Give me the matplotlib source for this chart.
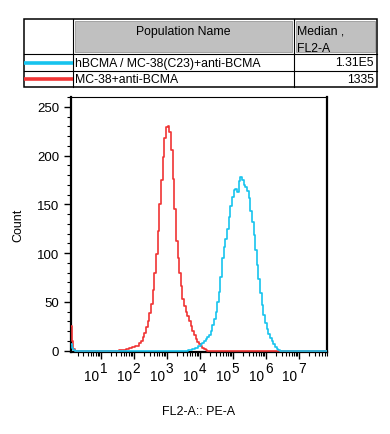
import matplotlib
matplotlib.use("Agg")
import matplotlib.pyplot as plt
import matplotlib.transforms as mtransforms
from matplotlib.patches import Rectangle
import numpy as np

plt.rcParams['font.family'] = ['Liberation Sans', 'DejaVu Sans']

# histogram data, x in log10(FL2-A)
red_log = [0.10, 0.15, 0.20, 0.25, 1.50, 1.60, 1.70, 1.80, 1.90, 2.00, 2.10, 2.20, 2.25,
           2.30, 2.35, 2.40, 2.45, 2.50, 2.55, 2.60, 2.65, 2.70, 2.75, 2.80, 2.85, 2.90,
           2.95, 3.00, 3.05, 3.10, 3.15, 3.20, 3.25, 3.30, 3.35, 3.40, 3.45, 3.50, 3.55,
           3.60, 3.65, 3.70, 3.75, 3.80, 3.85, 3.90, 3.95, 4.00, 4.05, 4.10, 4.15, 4.20,
           4.25, 7.85]
red_count = [25, 10, 2, 0, 0, 1, 1, 2, 3, 4, 5, 8, 10,
             14, 18, 24, 30, 38, 48, 62, 80, 99, 123, 150, 175, 198,
             218, 229, 230, 224, 206, 176, 145, 112, 95, 80, 66, 53, 46,
             40, 35, 30, 25, 20, 16, 12, 9, 7, 5, 3, 2, 1,
             0, 0]

blue_log = [0.10, 0.15, 0.20, 0.25, 3.60, 3.70, 3.80, 3.90, 4.00, 4.05, 4.10, 4.15, 4.20,
            4.25, 4.30, 4.35, 4.40, 4.45, 4.50, 4.55, 4.60, 4.65, 4.70, 4.75, 4.80, 4.85,
            4.90, 4.95, 5.00, 5.05, 5.10, 5.15, 5.20, 5.25, 5.30, 5.35, 5.40, 5.45, 5.50,
            5.55, 5.60, 5.65, 5.70, 5.75, 5.80, 5.85, 5.90, 5.95, 6.00, 6.05, 6.10, 6.15,
            6.20, 6.25, 6.30, 6.35, 6.40, 6.45, 7.85]
blue_count = [7, 3, 1, 0, 0, 1, 2, 3, 5, 7, 8, 10, 12,
              14, 16, 20, 26, 32, 40, 50, 60, 75, 95, 106, 114, 125,
              137, 148, 157, 165, 166, 163, 174, 178, 175, 170, 168, 164, 156,
              143, 132, 118, 103, 88, 73, 59, 47, 36, 28, 22, 17, 13,
              10, 7, 4, 2, 1, 0, 0]

decades = [1, 2, 3, 4, 5, 6, 7]
populations = ["hBCMA / MC-38(C23)+anti-BCMA", "MC-38+anti-BCMA"]
medians = ["1.31E5", "1335"]
colors = ["#17c3ee", "#f03434"]

W, H = 390, 435
fig = plt.figure(figsize=(W / 100, H / 100), dpi=100)

# histogram axes
ax = fig.add_axes([71 / W, 1 - 353 / H, 256 / W, 255 / H])
ax.plot(red_log, red_count, color=colors[1], lw=1.2, drawstyle='steps-mid', zorder=3)
ax.plot(blue_log, blue_count, color=colors[0], lw=1.2, drawstyle='steps-mid', zorder=4)
ax.set_xlim(0.1, 7.85)
ax.set_ylim(-1.5, 260)

ax.set_yticks([0, 50, 100, 150, 200, 250])
ax.set_yticks(np.arange(0, 261, 10), minor=True)
ax.set_xticks(decades)
ax.set_xticklabels([])
minors = [d + np.log10(k) for d in range(0, 8) for k in range(2, 10)]
ax.set_xticks([m for m in minors if 0.1 < m < 7.85], minor=True)

ax.tick_params(axis='both', which='major', direction='out', length=5, width=1, labelsize=9.5)
ax.tick_params(axis='both', which='minor', direction='out', length=3, width=0.8)

# FlowJo style decade labels: "10" left of the tick, exponent raised at the tick
trans = ax.get_xaxis_transform()
px = fig.dpi_scale_trans
for d in decades:
    ax.text(d, 0, "10", transform=trans + mtransforms.ScaledTranslation(-2 / 100, -28 / 100, px),
            ha='right', va='baseline', fontsize=9.8)
    ax.text(d, 0, str(d), transform=trans + mtransforms.ScaledTranslation(-1 / 100, -20 / 100, px),
            ha='left', va='baseline', fontsize=9.8)

for side in ['left', 'right', 'bottom']:
    ax.spines[side].set_linewidth(1.6)
ax.spines['top'].set_linewidth(0.8)

ax.set_ylabel("Count", fontsize=9, labelpad=9)
ax.text(0.5, 0, "FL2-A:: PE-A",
        transform=ax.transAxes + mtransforms.ScaledTranslation(0, -62 / 100, px),
        ha='center', va='baseline', fontsize=9)

# population table
tb = fig.add_axes([0, 0, 1, 1], facecolor='none')
tb.set_xlim(0, W)
tb.set_ylim(H, 0)
tb.axis('off')

x0, x1, x2, x3 = 24, 73, 294, 377
y0, y1, y2, y3 = 20, 55, 72, 88
tb.add_patch(Rectangle((x1 + 2, y0 + 2), x2 - x1 - 4, y1 - y0 - 4,
                       facecolor='#c0c0c0', edgecolor='#999999', lw=0.6))
tb.add_patch(Rectangle((x2 + 2, y0 + 2), x3 - x2 - 4, y1 - y0 - 4,
                       facecolor='#c0c0c0', edgecolor='#999999', lw=0.6))
tb.add_patch(Rectangle((x0, y0), x3 - x0, y3 - y0, facecolor='none', edgecolor='black', lw=1.1))
for y in [y1, y2]:
    tb.plot([x0, x3], [y, y], color='black', lw=0.8)
for x in [x1, x2]:
    tb.plot([x, x], [y0, y3], color='black', lw=0.8)

tb.text((x1 + x2) / 2, 32, "Population Name", ha='center', va='center', fontsize=8.8)
tb.text(x2 + 3, 32, "Median ,", ha='left', va='center', fontsize=8.8)
tb.text(x2 + 3, 49, "FL2-A", ha='left', va='center', fontsize=8.8)

row_y = [(y1 + y2) / 2, (y2 + y3) / 2]
for name, med, c, ry in zip(populations, medians, colors, row_y):
    tb.plot([x0, x1], [ry, ry], color=c, lw=2.6, solid_capstyle='butt')
    tb.text(x1 + 2, ry, name, ha='left', va='center', fontsize=8.8)
    tb.text(x3 - 3, ry, med, ha='right', va='center', fontsize=8.8)

fig.savefig("out.png", dpi=100)
